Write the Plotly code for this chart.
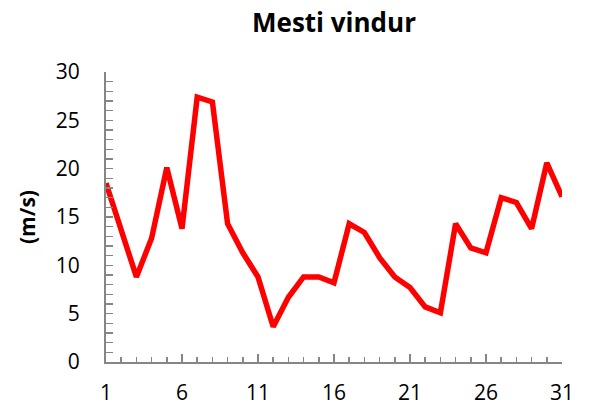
import plotly.graph_objects as go

days = list(range(1, 32))
wind = [18.5, 13.5, 8.8, 12.8, 20.1, 13.8, 27.4, 26.9, 14.3, 11.3,
        8.8, 3.65, 6.7, 8.8, 8.8, 8.2, 14.3, 13.4, 10.8, 8.8,
        7.7, 5.7, 5.1, 14.3, 11.8, 11.3, 17.0, 16.5, 13.8, 20.6, 17.1]
x_ticks = [1, 6, 11, 16, 21, 26, 31]
y_ticks = [0, 5, 10, 15, 20, 25, 30]

fig = go.Figure(go.Scatter(x=days, y=wind, mode="lines",
                           line=dict(color="#FF0000", width=5.5)))

axis_col = "#868686"
fig.update_layout(
    width=589, height=410,
    margin=dict(l=106, r=27, t=72, b=48, autoexpand=False),
    paper_bgcolor="white", plot_bgcolor="white",
    showlegend=False,
    font=dict(family="Open Sans", color="#000000"),
    title=dict(text="<b>Mesti vindur</b>", x=0.5, xref="paper", xanchor="center",
               y=0.945, yanchor="middle", font=dict(size=26, family="Open Sans")),
    xaxis=dict(range=[1, 31], tickmode="array", tickvals=x_ticks, ticktext=[str(v) for v in x_ticks],
               automargin=False,
               showgrid=False, zeroline=False, showline=True, linecolor=axis_col, linewidth=2,
               ticks="inside", ticklen=8, tickcolor=axis_col, tickwidth=1.5,
               minor=dict(dtick=1, tick0=1, ticks="inside", ticklen=5, tickcolor=axis_col, tickwidth=1.5, showgrid=False),
               tickfont=dict(size=21), ticklabelstandoff=11),
    yaxis=dict(range=[0, 30], tickmode="array", tickvals=y_ticks,
               automargin=False,
               showgrid=False, zeroline=False, showline=True, linecolor=axis_col, linewidth=2,
               ticks="inside", ticklen=7, tickcolor=axis_col, tickwidth=1.5,
               minor=dict(dtick=1, tick0=0, ticks="inside", ticklen=7, tickcolor=axis_col, tickwidth=1.5, showgrid=False),
               tickfont=dict(size=21), ticklabelstandoff=20,
               title=dict(text="<b>(m/s)</b>", font=dict(size=21), standoff=14)),
)

fig.write_html("out.html", config={"displayModeBar": False, "staticPlot": True},
               post_script="document.body.style.margin='0';document.body.style.overflow='hidden';")
